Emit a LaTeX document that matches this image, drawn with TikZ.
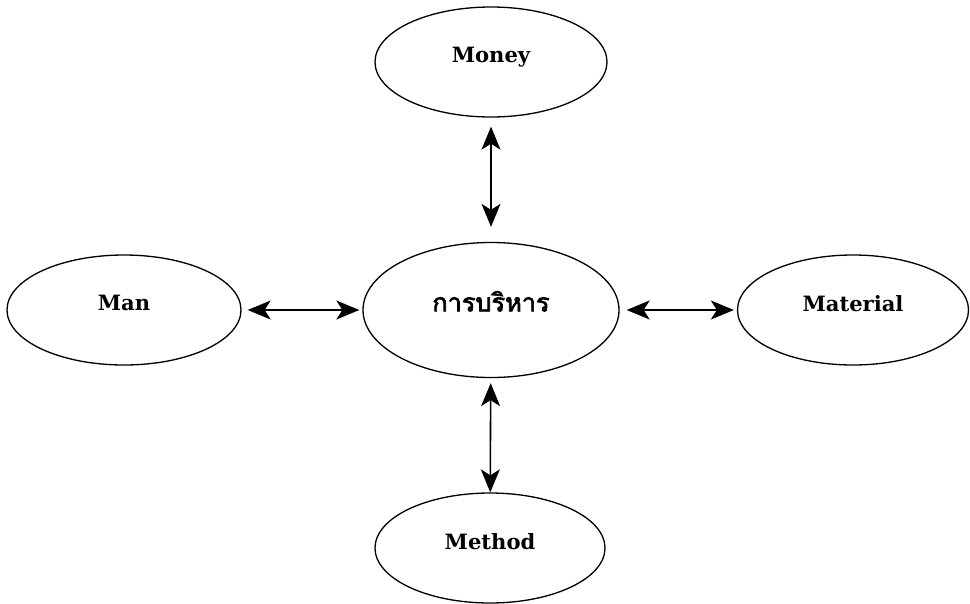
\documentclass[tikz,border=0pt]{standalone}
\usepackage{fontspec}
\setmainfont{DejaVu Serif}
\newfontfamily\thaifont[Script=Thai,FakeBold=2.5]{Loma}
\usetikzlibrary{positioning, shapes.geometric, arrows.meta}
\tikzstyle{factor} = [ellipse, draw, line width=0.75pt, minimum width=4.64cm, minimum height=2.2cm, text depth=0.28cm, font=\bfseries\large]
\tikzstyle{core} = [ellipse, draw, line width=0.75pt, minimum width=5.12cm, minimum height=2.7cm, text depth=0.35cm, font=\thaifont\Large]
\tikzstyle{link} = [{Stealth[length=4.6mm,width=3.8mm,inset=1.2mm]}-{Stealth[length=4.6mm,width=3.8mm,inset=1.2mm]}, line width=0.9pt]

\begin{document}
\begin{tikzpicture}
\useasboundingbox (0,0) rectangle (19.4,-12.06);
\node[core] (admin) at (9.82,-6.2) {การบริหาร};
\node[factor] (money) at (9.82,-1.24) {Money};
\node[factor, minimum width=4.68cm] (man) at (2.48,-6.2) {Man};
\node[factor, minimum width=4.62cm] (material) at (17.06,-6.2) {Material};
\node[factor, minimum width=4.6cm] (method) at (9.8,-10.96) {Method};
\draw[link, shorten <=0.18cm, shorten >=0.3cm] (money) -- (admin);
\draw[link, shorten <=0.1cm, shorten >=0cm] (admin) -- (method);
\draw[link, shorten <=0.12cm, shorten >=0.06cm] (man) -- (admin);
\draw[link, shorten <=0.14cm, shorten >=0.06cm] (admin) -- (material);
\end{tikzpicture}
\end{document}
